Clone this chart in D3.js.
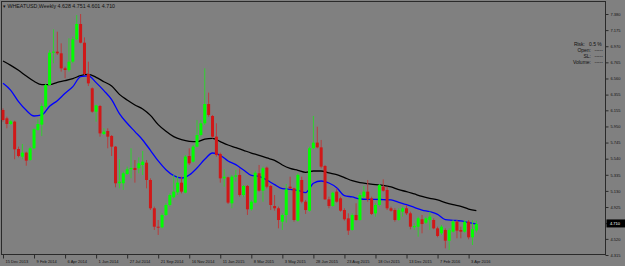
<!DOCTYPE html>
<html>
<head>
<meta charset="utf-8">
<script src="https://cdn.jsdelivr.net/npm/d3@7"></script>
<style>
html, body { margin: 0; padding: 0; background: #808080; }
svg { display: block; }
text { font-family: "Liberation Sans", Arial, sans-serif; }
</style>
</head>
<body>
<svg id="chart" width="625" height="266"></svg>
<script>
// Weekly bars, first bar week of 15 Dec 2013
const symbol = "WHEATUSD,Weekly";
const firstWeek = "2013-12-15";

const opens = [6.159,6.053,5.981,6.011,5.663,5.566,5.617,5.523,5.672,5.905,5.973,6.202,6.477,6.888,6.901,6.880,6.689,6.668,6.774,7.058,
  7.253,7.015,6.617,6.435,6.138,6.210,5.854,5.892,5.829,5.693,5.227,5.227,5.345,5.405,5.422,5.417,5.460,5.489,5.269,4.909,
  4.675,4.667,4.824,4.951,5.049,5.112,5.235,5.108,5.574,5.502,5.693,5.841,5.990,6.235,6.083,5.820,5.600,5.290,5.303,4.972,
  5.311,5.333,5.078,5.193,4.896,4.981,5.354,5.133,5.426,5.193,4.938,4.909,4.739,4.824,5.184,5.163,4.752,5.269,4.993,4.879,
  5.672,5.744,5.684,5.447,5.023,4.938,5.121,5.036,4.887,4.781,4.633,4.824,4.760,5.057,5.121,5.036,4.845,4.951,5.184,5.142,
  4.909,4.887,4.760,4.866,4.909,4.845,4.667,4.675,4.769,4.726,4.760,4.760,4.654,4.591,4.633,4.497,4.612,4.739,4.633,4.612,
  4.739,4.540,4.628];
const highs = [6.180,6.074,6.032,6.023,5.693,5.727,5.629,5.693,5.926,6.040,6.244,6.498,6.922,7.185,7.155,7.007,6.710,7.071,7.092,7.367,
  7.380,7.083,6.774,6.447,6.227,6.223,5.926,5.926,5.841,5.701,5.532,5.375,5.439,5.672,5.523,5.557,5.638,5.523,5.290,4.930,
  4.760,4.845,4.972,5.099,5.333,5.320,5.311,5.587,5.672,5.714,6.032,6.032,6.689,6.380,6.096,5.990,5.617,5.405,5.311,5.333,
  5.396,5.417,5.205,5.205,5.015,5.388,5.460,5.439,5.439,5.205,5.078,4.930,4.845,5.218,5.311,5.171,5.354,5.311,5.015,5.693,
  6.083,5.947,5.778,5.460,5.057,5.121,5.163,5.057,4.909,4.845,4.845,4.972,5.108,5.193,5.269,5.057,4.972,5.218,5.277,5.184,
  4.930,4.909,4.909,4.930,4.951,4.866,4.718,4.803,4.824,4.803,4.866,4.781,4.675,4.697,4.654,4.654,4.760,4.760,4.675,4.760,
  4.760,4.760,4.751];
const lows = [6.011,5.926,5.968,5.532,5.557,5.532,5.451,5.515,5.659,5.896,5.828,6.180,6.464,6.753,6.859,6.647,6.562,6.647,6.753,7.049,
  7.007,6.604,6.464,6.125,6.011,5.820,5.841,5.672,5.574,5.176,5.163,5.142,5.333,5.290,5.235,5.354,5.333,5.163,4.887,4.633,
  4.570,4.654,4.811,4.930,5.036,5.078,5.099,5.099,5.460,5.490,5.684,5.820,5.968,6.074,5.799,5.566,5.235,5.184,4.964,4.909,
  5.248,5.057,5.049,4.824,4.879,4.972,5.121,4.993,5.163,4.887,4.879,4.654,4.633,4.726,5.150,4.739,4.739,4.972,4.837,4.866,
  5.659,5.672,5.417,5.015,4.909,4.930,4.981,4.866,4.752,4.570,4.625,4.752,4.752,5.036,4.993,4.824,4.803,4.930,5.121,4.887,
  4.866,4.739,4.752,4.803,4.824,4.642,4.633,4.548,4.591,4.709,4.633,4.642,4.540,4.570,4.400,4.379,4.599,4.527,4.527,4.599,
  4.514,4.442,4.601];
const closes = [6.032,5.981,6.015,5.659,5.574,5.617,5.515,5.672,5.913,5.981,6.210,6.477,6.888,6.901,6.880,6.689,6.668,6.774,7.058,7.253,
  7.015,6.617,6.498,6.138,6.218,5.862,5.884,5.820,5.693,5.227,5.248,5.354,5.405,5.422,5.396,5.481,5.502,5.269,4.909,4.675,
  4.663,4.824,4.951,5.078,5.121,5.235,5.121,5.566,5.481,5.693,5.841,5.990,6.235,6.096,5.820,5.587,5.290,5.311,4.981,5.311,
  5.328,5.078,5.193,4.896,4.993,5.362,5.133,5.417,5.184,4.951,4.909,4.760,4.824,5.150,5.163,4.760,5.333,4.993,4.887,5.672,
  5.744,5.684,5.439,5.023,4.938,5.108,4.993,4.879,4.769,4.625,4.824,4.760,5.078,5.121,5.023,4.837,4.951,5.205,5.133,4.909,
  4.879,4.760,4.887,4.909,4.845,4.675,4.684,4.781,4.709,4.781,4.803,4.654,4.557,4.675,4.497,4.633,4.739,4.625,4.612,4.739,
  4.540,4.642,4.710];

// moving averages read every 2 weeks
const maWeeks = d3.range(0, 123, 2);
const slowMA = [6.782,6.727,6.664,6.591,6.524,6.481,6.481,6.511,6.532,6.558,6.596,6.613,6.575,6.519,6.464,6.358,
  6.286,6.223,6.172,6.091,5.973,5.888,5.820,5.782,5.761,5.756,5.790,5.799,5.756,5.714,5.680,5.646,
  5.612,5.583,5.549,5.519,5.460,5.417,5.392,5.366,5.383,5.383,5.358,5.337,5.299,5.260,5.235,5.222,
  5.210,5.201,5.180,5.146,5.121,5.091,5.061,5.036,5.015,4.981,4.955,4.934,4.900,4.879];
const fastMA = [6.498,6.409,6.265,6.155,6.083,6.096,6.206,6.278,6.371,6.456,6.583,6.592,6.507,6.405,6.291,6.112,
  5.990,5.884,5.778,5.646,5.511,5.400,5.324,5.294,5.333,5.422,5.532,5.612,5.583,5.511,5.464,5.396,
  5.328,5.316,5.269,5.210,5.159,5.150,5.137,5.108,5.227,5.256,5.231,5.171,5.070,5.053,5.027,5.023,
  5.023,5.019,5.015,4.985,4.955,4.921,4.887,4.866,4.832,4.765,4.756,4.748,4.726,4.709];

const priceTicks = ["7.380","7.175","6.970","6.765","6.560","6.355","6.155","5.950","5.745","5.540","5.335","5.130","4.925","4.720","4.520","4.315"];
const dateTicks = ["15 Dec 2013","9 Feb 2014","6 Apr 2014","1 Jun 2014","27 Jul 2014","21 Sep 2014","16 Nov 2014","11 Jan 2015",
  "8 Mar 2015","3 May 2015","28 Jun 2015","23 Aug 2015","18 Oct 2015","13 Dec 2015","7 Feb 2016","3 Apr 2016"];
const legendRows = [["Risk:", "0.5 %"], ["Open:", "-----"], ["SL:", "-----"], ["Volume:", "-----"]];

const start = d3.utcParse("%Y-%m-%d")(firstWeek);
const weeks = opens.map((d, i) => d3.utcDay.offset(start, 7 * i));
const bars = opens.map((o, i) => ({ date: weeks[i], o: o, h: highs[i], l: lows[i], c: closes[i] }));

const dims = { width: 625, height: 266, left: 1.5, top: 1.5, right: 605.5, bottom: 254.5 };

const svg = d3.select("#chart");

const x = d3.scaleUtc()
  .domain([weeks[0], weeks[weeks.length - 1]])
  .range([3, 3 + 3.88 * (weeks.length - 1)]);

const y = d3.scaleLinear()
  .domain([4.315, 7.380])
  .range([255, 14]);

// frame
svg.append("rect")
  .attr("x", dims.left).attr("y", dims.top)
  .attr("width", dims.right - dims.left).attr("height", dims.bottom - dims.top)
  .attr("fill", "#808080").attr("stroke", "#2a2a2a").attr("stroke-width", 1);

const plot = svg.append("g");

// moving averages
const line = d3.line()
  .x((d, i) => x(weeks[maWeeks[i]]))
  .y(d => y(d))
  .curve(d3.curveMonotoneX);

plot.append("path").datum(slowMA)
  .attr("d", line).attr("fill", "none")
  .attr("stroke", "#000").attr("stroke-width", 1.3);

plot.append("path").datum(fastMA)
  .attr("d", line).attr("fill", "none")
  .attr("stroke", "#0000ff").attr("stroke-width", 1.3);

// candles
const candle = plot.selectAll("g.bar")
  .data(bars)
  .enter().append("g")
  .attr("class", "bar");

candle.append("line")
  .attr("x1", d => x(d.date)).attr("x2", d => x(d.date))
  .attr("y1", d => y(d.h)).attr("y2", d => y(d.l))
  .attr("stroke", d => d.c >= d.o ? "#30d030" : "#b83c3c")
  .attr("stroke-width", 1);

candle.append("rect")
  .attr("x", d => x(d.date) - 1.5)
  .attr("width", 3)
  .attr("y", d => y(Math.max(d.o, d.c)))
  .attr("height", d => Math.max(1, Math.abs(y(d.o) - y(d.c))))
  .attr("fill", d => d.c >= d.o ? "#00ff00" : "#d01818");

// price axis
const yAxis = svg.append("g")
  .attr("transform", `translate(${dims.right},0)`)
  .call(d3.axisRight(y)
    .tickValues(priceTicks.map(Number))
    .tickFormat((d, i) => priceTicks[i])
    .tickSize(3)
    .tickPadding(2));
yAxis.select(".domain").remove();
yAxis.selectAll("line").attr("stroke", "#2a2a2a");
yAxis.selectAll("text")
  .attr("fill", "#111")
  .style("font-size", "4px")
  .style("font-family", "Liberation Sans, Arial, sans-serif");

// current price label
const last = bars[bars.length - 1];
svg.append("rect")
  .attr("x", dims.right + 1).attr("y", y(last.c) - 4.5)
  .attr("width", 18.5).attr("height", 8)
  .attr("fill", "#000");
svg.append("text")
  .attr("x", dims.right + 4.5).attr("y", y(last.c) + 1.4)
  .attr("fill", "#fff")
  .style("font-size", "4px")
  .text(last.c.toFixed(3));

// time axis
const tickDates = dateTicks.map(s => d3.utcParse("%d %b %Y")(s));
const xAxis = svg.append("g")
  .attr("transform", `translate(0,${dims.bottom})`)
  .call(d3.axisBottom(x)
    .tickValues(tickDates)
    .tickFormat((d, i) => dateTicks[i])
    .tickSize(4));
xAxis.select(".domain").remove();
xAxis.selectAll("line").attr("stroke", "#2a2a2a");
xAxis.selectAll("text")
  .attr("text-anchor", "start")
  .attr("x", 2)
  .attr("y", 5.5)
  .attr("dy", "0.7em")
  .attr("fill", "#111")
  .style("font-size", "4px")
  .style("font-family", "Liberation Sans, Arial, sans-serif");

// title
svg.append("text")
  .attr("x", 3).attr("y", 8)
  .attr("fill", "#111")
  .style("font-size", "5.3px")
  .text("\u25BE " + symbol + "  " + [last.o, last.h, last.l, last.c].map(v => v.toFixed(3)).join(" "));

// risk legend
const legend = svg.append("g").style("font-size", "5px").attr("fill", "#111");
legendRows.forEach((row, i) => {
  const ly = 46 + i * 6;
  legend.append("text")
    .attr("x", i === 0 ? 585 : 591).attr("y", ly)
    .attr("text-anchor", "end")
    .text(row[0]);
  legend.append("text")
    .attr("x", i === 0 ? 589 : 594.5).attr("y", ly)
    .text(row[1]);
});
</script>
</body>
</html>
